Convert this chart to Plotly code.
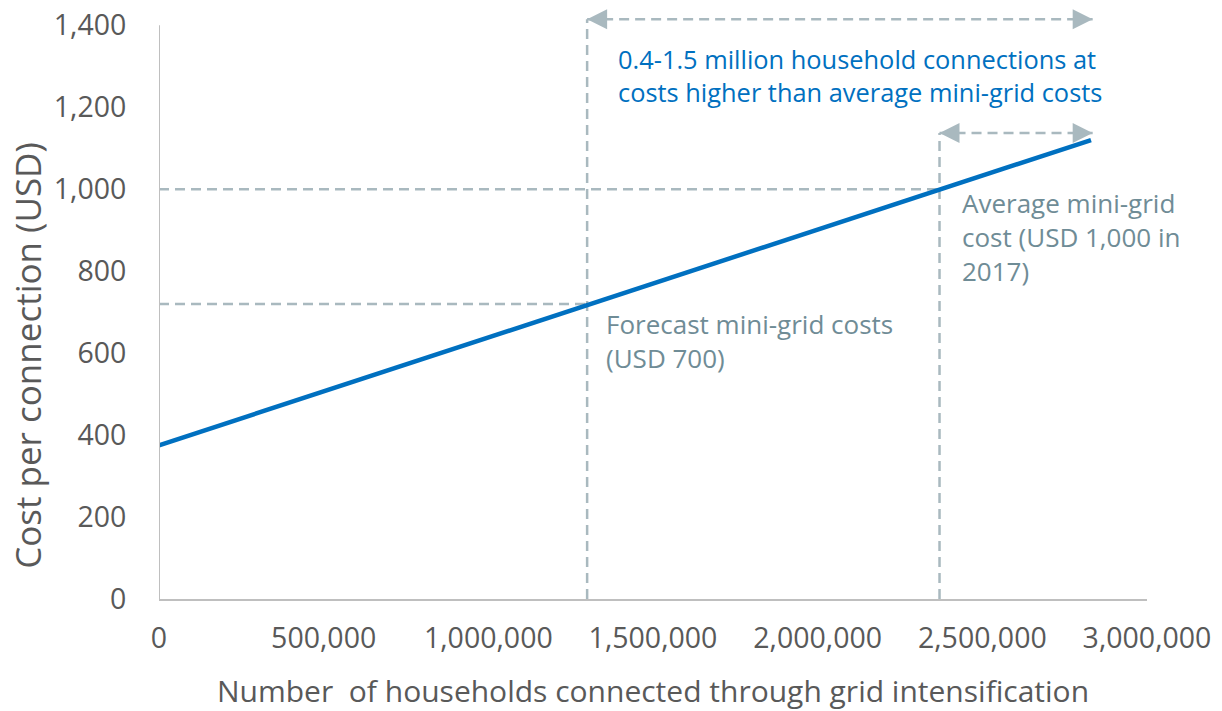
import plotly.graph_objects as go

# ---- data ----
line_x = [0, 2830000]
line_y = [375, 1120]

forecast_x = 1300000
forecast_y = 720
average_x = 2370000
average_y = 1000

arrow_end_x = 2835000
top_arrow_y = 1415
avg_arrow_y = 1137

x_ticks = [0, 500000, 1000000, 1500000, 2000000, 2500000, 3000000]
x_ticktext = ["0", "500,000", "1,000,000", "1,500,000", "2,000,000", "2,500,000", "3,000,000"]
y_ticks = [0, 200, 400, 600, 800, 1000, 1200, 1400]
y_ticktext = ["0", "200", "400", "600", "800", "1,000", "1,200", "1,400"]

blue_text = "0.4-1.5 million household connections at<br>costs higher than average mini-grid costs"
forecast_text = "Forecast mini-grid costs<br>(USD 700)"
average_text = "Average mini-grid<br>cost (USD 1,000 in<br>2017)"
x_title = "Number&nbsp;&nbsp;of households connected through grid intensification"
y_title = "Cost per connection (USD)"

# ---- styles ----
FONT = "Open Sans"
BLUE = "#0070C0"
DASH_C = "#A9B9BF"
TEXT_GREY = "#6F8C96"
AXIS_TXT = "#595959"
AXIS_LINE = "#BFBFBF"
DASH = "10px,6px"

fig = go.Figure()

def dashed(xs, ys):
    fig.add_trace(go.Scatter(x=xs, y=ys, mode="lines",
                             line=dict(color=DASH_C, width=2.5, dash=DASH),
                             hoverinfo="skip", showlegend=False))

# guide lines
dashed([0, forecast_x], [forecast_y, forecast_y])
dashed([forecast_x, forecast_x], [0, top_arrow_y])
dashed([forecast_x, arrow_end_x], [top_arrow_y, top_arrow_y])
dashed([0, average_x], [average_y, average_y])
dashed([average_x, average_x], [0, avg_arrow_y])
dashed([average_x, arrow_end_x], [avg_arrow_y, avg_arrow_y])

# arrow heads
fig.add_trace(go.Scatter(
    x=[forecast_x, arrow_end_x, average_x, arrow_end_x],
    y=[top_arrow_y, top_arrow_y, avg_arrow_y, avg_arrow_y],
    mode="markers",
    marker=dict(symbol=["arrow-left", "arrow-right", "arrow-left", "arrow-right"],
                size=20, color=DASH_C, line=dict(width=0)),
    cliponaxis=False, hoverinfo="skip", showlegend=False))

# main cost line
fig.add_trace(go.Scatter(x=line_x, y=line_y, mode="lines",
                         line=dict(color=BLUE, width=4.5),
                         showlegend=False))

# y axis line (only up to 1,400)
fig.add_shape(type="line", xref="x", yref="y", x0=0, x1=0, y0=0, y1=y_ticks[-1],
              line=dict(color=AXIS_LINE, width=2))

fig.add_annotation(x=1387000, y=1278, xref="x", yref="y", text=blue_text,
                   showarrow=False, xanchor="left", yanchor="middle", align="left",
                   font=dict(family=FONT, size=25.4, color=BLUE))
fig.add_annotation(x=1352000, y=629, xref="x", yref="y", text=forecast_text,
                   showarrow=False, xanchor="left", yanchor="middle", align="left",
                   font=dict(family=FONT, size=26, color=TEXT_GREY))
fig.add_annotation(x=2432000, y=884, xref="x", yref="y", text=average_text,
                   showarrow=False, xanchor="left", yanchor="middle", align="left",
                   font=dict(family=FONT, size=26, color=TEXT_GREY))

# axis titles
fig.add_annotation(x=0, y=0.415, xref="paper", yref="paper", text=y_title,
                   textangle=-90, showarrow=False, xanchor="center", yanchor="middle",
                   xshift=-131, font=dict(family=FONT, size=35, color=AXIS_TXT))
fig.add_annotation(x=0.5, y=0, xref="paper", yref="paper", text=x_title,
                   showarrow=False, xanchor="center", yanchor="middle",
                   yshift=-91, font=dict(family=FONT, size=30, color=AXIS_TXT))

fig.update_layout(
    width=1222, height=711,
    margin=dict(l=159, r=75, t=13, b=112),
    paper_bgcolor="white", plot_bgcolor="white",
    font=dict(family=FONT, color=AXIS_TXT),
    xaxis=dict(range=[0, 3000000], tickvals=x_ticks, ticktext=x_ticktext,
               showgrid=False, zeroline=False, showline=True,
               linecolor=AXIS_LINE, linewidth=2, automargin=False,
               ticks="outside", ticklen=13, tickcolor="rgba(0,0,0,0)",
               ticklabeloverflow="allow",
               tickfont=dict(family=FONT, size=28.5, color=AXIS_TXT)),
    yaxis=dict(range=[0, 1430], tickvals=y_ticks, ticktext=y_ticktext,
               showgrid=False, zeroline=False, showline=False, automargin=False,
               ticks="outside", ticklen=26, tickcolor="rgba(0,0,0,0)",
               ticklabeloverflow="allow",
               tickfont=dict(family=FONT, size=28.5, color=AXIS_TXT)),
)

# remove the browser's default 8px page margin so the figure fills the window
fig.write_html("out.html", config={"displayModeBar": False},
               post_script="document.body.style.margin='0';")
